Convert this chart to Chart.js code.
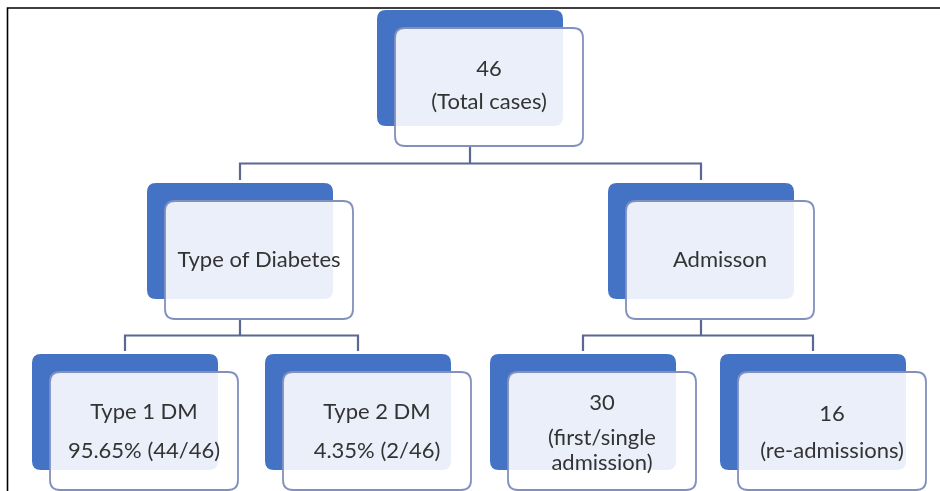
<!DOCTYPE html>
<html>
<head>
<meta charset="utf-8">
<script src="https://cdn.jsdelivr.net/npm/chart.js@4/dist/chart.umd.min.js"></script>
<style>
  html, body { margin: 0; padding: 0; background: #ffffff; }
  #wrap { width: 940px; height: 491px; position: relative; }
</style>
</head>
<body>
<div id="wrap"><canvas id="c" width="940" height="491"></canvas></div>
<script>
// ---- data ----
const nodeTitles = ["Total cases", "Type of Diabetes", "Admisson", "Type 1 DM", "Type 2 DM", "first/single admission", "re-admissions"];
const nodeCounts = [46, null, null, 44, 2, 30, 16];
const nodeParents = [null, 0, 0, 1, 1, 2, 2];
const totalCases = 46;

// ---- layout (pixel space of the hidden scales) ----
const backX = [377, 147, 608, 32, 265, 490, 720];
const backY = [10, 183, 183, 354, 354, 354, 354];
const BW = 186, BH = 116, OFF = 18, FW = 188, FH = 118;

function pct(n) { return (n / totalCases * 100).toFixed(2) + "%"; }
// text lines per node: [text, dy from front-box centre]
const nodeLines = [
  [[String(nodeCounts[0]), -18], ["(" + nodeTitles[0] + ")", 15]],
  [[nodeTitles[1], 0]],
  [[nodeTitles[2], 0]],
  [[nodeTitles[3], -19], [pct(nodeCounts[3]) + " (" + nodeCounts[3] + "/" + totalCases + ")", 20]],
  [[nodeTitles[4], -19], [pct(nodeCounts[4]) + " (" + nodeCounts[4] + "/" + totalCases + ")", 20]],
  [[String(nodeCounts[5]), -28], ["(first/single", 7], ["admission)", 32]],
  [[String(nodeCounts[6]), -17], ["(" + nodeTitles[6] + ")", 20]]
];

// connector polylines built from the tree
const connectors = [];
[0, 1, 2].forEach(p => {
  const kids = nodeParents.map((q, i) => q === p ? i : -1).filter(i => i >= 0);
  const px = backX[p] + BW / 2;
  const pBottom = backY[p] + OFF + FH;
  const childTop = backY[kids[0]];
  const midY = pBottom + (childTop - pBottom) * 0.5 - 1;
  connectors.push([{x: px, y: pBottom}, {x: px, y: midY}]);
  const xs = kids.map(k => backX[k] + BW / 2);
  connectors.push([{x: xs[0], y: childTop - 3}, {x: xs[0], y: midY}, {x: xs[xs.length - 1], y: midY}, {x: xs[xs.length - 1], y: childTop - 3}]);
});

const nodeCentres = backX.map((x, i) => ({x: x + OFF + FW / 2, y: backY[i] + OFF + FH / 2}));

function rr(ctx, x, y, w, h, r) {
  ctx.beginPath();
  ctx.moveTo(x + r, y);
  ctx.lineTo(x + w - r, y);
  ctx.quadraticCurveTo(x + w, y, x + w, y + r);
  ctx.lineTo(x + w, y + h - r);
  ctx.quadraticCurveTo(x + w, y + h, x + w - r, y + h);
  ctx.lineTo(x + r, y + h);
  ctx.quadraticCurveTo(x, y + h, x, y + h - r);
  ctx.lineTo(x, y + r);
  ctx.quadraticCurveTo(x, y, x + r, y);
  ctx.closePath();
}

const treePlugin = {
  id: 'tree',
  beforeDatasetsDraw(chart) {
    const ctx = chart.ctx, xs = chart.scales.x, ys = chart.scales.y;
    ctx.save();
    // frame
    ctx.strokeStyle = '#000';
    ctx.lineWidth = 1.6;
    ctx.beginPath();
    ctx.moveTo(xs.getPixelForValue(7.5), ys.getPixelForValue(491));
    ctx.lineTo(xs.getPixelForValue(7.5), ys.getPixelForValue(8));
    ctx.lineTo(xs.getPixelForValue(940), ys.getPixelForValue(8));
    ctx.stroke();
    ctx.restore();
  },
  afterDatasetsDraw(chart) {
    const ctx = chart.ctx, xs = chart.scales.x, ys = chart.scales.y;
    ctx.save();
    backX.forEach((bx, i) => {
      const x0 = xs.getPixelForValue(bx), y0 = ys.getPixelForValue(backY[i]);
      const w = xs.getPixelForValue(bx + BW) - x0, h = ys.getPixelForValue(backY[i] + BH) - y0;
      rr(ctx, x0, y0, w, h, 9);
      ctx.fillStyle = '#4472C4';
      ctx.fill();
      const fx = xs.getPixelForValue(bx + OFF), fy = ys.getPixelForValue(backY[i] + OFF);
      const fw = xs.getPixelForValue(bx + OFF + FW) - fx, fh = ys.getPixelForValue(backY[i] + OFF + FH) - fy;
      rr(ctx, fx, fy, fw, fh, 10);
      ctx.fillStyle = 'rgba(255,255,255,0.89)';
      ctx.fill();
      ctx.strokeStyle = '#8290BE';
      ctx.lineWidth = 1.8;
      ctx.stroke();
      const c = nodeCentres[i];
      ctx.fillStyle = '#333333';
      ctx.font = '22px Lato, "Open Sans", sans-serif';
      ctx.textAlign = 'center';
      ctx.textBaseline = 'middle';
      nodeLines[i].forEach(([t, dy]) => {
        ctx.fillText(t, xs.getPixelForValue(c.x), ys.getPixelForValue(c.y + dy));
      });
    });
    ctx.restore();
  }
};

const datasets = connectors.map(pts => ({
  type: 'line',
  data: pts,
  borderColor: '#5B6894',
  borderWidth: 2.2,
  pointRadius: 0,
  fill: false,
  tension: 0
}));

new Chart(document.getElementById('c'), {
  type: 'scatter',
  data: { datasets },
  options: {
    responsive: false,
    animation: false,
    layout: { padding: 0 },
    plugins: { legend: { display: false }, tooltip: { enabled: false } },
    scales: {
      x: { type: 'linear', min: 0, max: 940, display: false },
      y: { type: 'linear', min: 0, max: 491, reverse: true, display: false }
    },
    showLine: true
  },
  plugins: [treePlugin]
});
</script>
</body>
</html>
